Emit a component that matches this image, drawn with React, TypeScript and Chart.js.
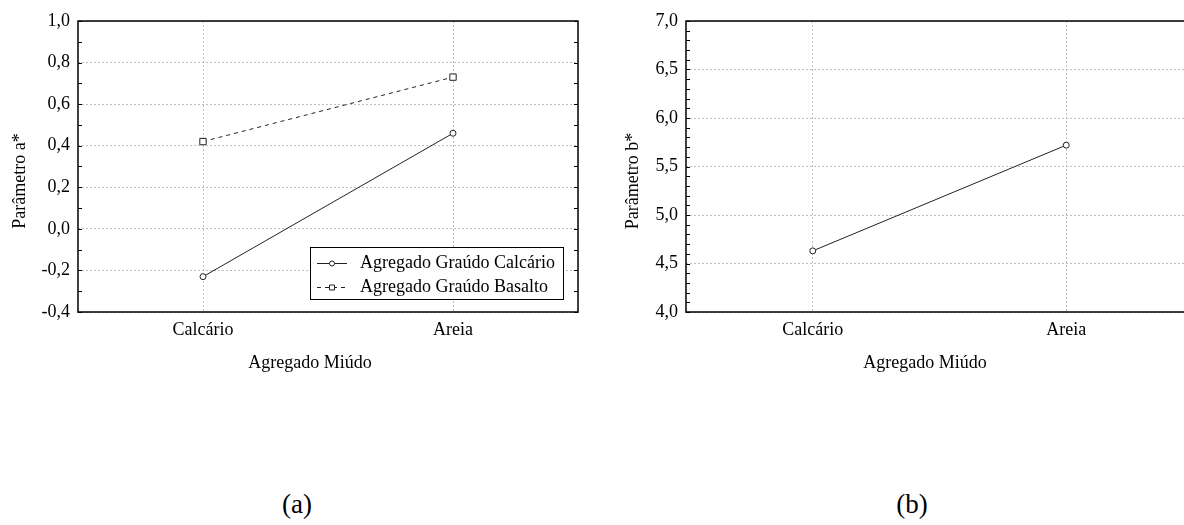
import React, { useEffect, useRef } from "react";
import { Chart, registerables } from "chart.js";

Chart.register(...registerables);

// Fine aggregate on the x axis
const categories = ["Calcário", "Areia"];
// Parameter a* for each coarse aggregate
const aCalcario = [-0.23, 0.46];
const aBasalto = [0.42, 0.73];
// Parameter b*
const bValues = [4.63, 5.72];
// Major y ticks
const aTicks = [-0.4, -0.2, 0.0, 0.2, 0.4, 0.6, 0.8, 1.0];
const bTicks = [4.0, 4.5, 5.0, 5.5, 6.0, 6.5, 7.0];
const seriesNames = ["Agregado Graúdo Calcário", "Agregado Graúdo Basalto"];
const xTitle = "Agregado Miúdo";
const yTitles = ["Parâmetro a*", "Parâmetro b*"];
const panelLabels = ["(a)", "(b)"];

const FONT = '"Liberation Serif", "Times New Roman", serif';
const GRID = "#bdbdbd";
const fmt = (v: number) => v.toFixed(1).replace(".", ",");

// Draws the plot frame, inner minor ticks, axis titles and the boxed legend
const framePlugin = {
  id: "frame",
  afterDraw(chart: any, _args: any, opts: any) {
    const { ctx, chartArea: a } = chart;
    const y = chart.scales.y;
    ctx.save();
    ctx.strokeStyle = "#000";
    ctx.lineWidth = 1;
    const n = Math.round((y.max - y.min) / opts.minorStep);
    ctx.beginPath();
    for (let i = 0; i <= n; i++) {
      const py = Math.round(y.getPixelForValue(y.min + i * opts.minorStep)) + 0.5;
      ctx.moveTo(a.left, py);
      ctx.lineTo(a.left + 4, py);
      ctx.moveTo(a.right, py);
      ctx.lineTo(a.right - 4, py);
    }
    ctx.stroke();

    ctx.lineWidth = 1.5;
    ctx.strokeRect(a.left, a.top, a.right - a.left, a.bottom - a.top);

    ctx.fillStyle = "#000";
    ctx.font = `18px ${FONT}`;
    ctx.textAlign = "center";
    ctx.textBaseline = "middle";
    ctx.fillText(opts.xTitle, chart.width / 2, opts.xTitleY);
    ctx.save();
    ctx.translate(opts.yTitleX, opts.yTitleY);
    ctx.rotate(-Math.PI / 2);
    ctx.fillText(opts.yTitle, 0, 0);
    ctx.restore();

    if (opts.legend) {
      const ds = chart.data.datasets;
      ctx.font = `18px ${FONT}`;
      const textW = Math.max(...ds.map((d: any) => ctx.measureText(d.label).width));
      const boxW = Math.round(50 + textW + 8);
      const boxH = 52;
      const bx = Math.round(a.right - 15 - boxW);
      const by = Math.round(a.bottom - 13 - boxH);
      ctx.fillStyle = "#fff";
      ctx.fillRect(bx, by, boxW, boxH);
      ctx.strokeStyle = "#000";
      ctx.lineWidth = 1;
      ctx.strokeRect(bx + 0.5, by + 0.5, boxW, boxH);
      ds.forEach((d: any, i: number) => {
        const ry = by + 16.5 + i * 24;
        ctx.strokeStyle = "#222";
        ctx.lineWidth = 1;
        ctx.setLineDash(d.borderDash || []);
        ctx.beginPath();
        ctx.moveTo(bx + 7, ry);
        ctx.lineTo(bx + 37, ry);
        ctx.stroke();
        ctx.setLineDash([]);
        ctx.fillStyle = "#fff";
        ctx.beginPath();
        if (d.pointStyle === "rect") {
          ctx.rect(bx + 19.5, ry - 2.5, 5, 5);
        } else {
          ctx.arc(bx + 22, ry, 2.5, 0, Math.PI * 2);
        }
        ctx.fill();
        ctx.stroke();
        ctx.fillStyle = "#000";
        ctx.textAlign = "left";
        ctx.fillText(d.label, bx + 50, ry);
      });
    }
    ctx.restore();
  },
};

function makeConfig(o: {
  datasets: any[];
  ticks: number[];
  yTitle: string;
  axisWidth: number;
  minorStep: number;
  yTitleX: number;
  legend: boolean;
}): any {
  return {
    type: "line",
    data: { labels: categories, datasets: o.datasets },
    plugins: [framePlugin],
    options: {
      animation: false,
      responsive: false,
      events: [],
      layout: { padding: { top: 21, right: 42, left: 0, bottom: 0 } },
      scales: {
        x: {
          type: "category",
          offset: true,
          afterFit: (s: any) => {
            s.height = 68;
          },
          ticks: { font: { family: FONT, size: 18 }, color: "#000", padding: 7 },
          grid: { offset: false, color: GRID, lineWidth: 1, drawTicks: false },
          border: { display: false, dash: [2, 2] },
        },
        y: {
          type: "linear",
          min: o.ticks[0],
          max: o.ticks[o.ticks.length - 1],
          afterBuildTicks: (s: any) => {
            s.ticks = o.ticks.map((v) => ({ value: v }));
          },
          afterFit: (s: any) => {
            s.width = o.axisWidth;
          },
          ticks: {
            font: { family: FONT, size: 18 },
            color: "#000",
            padding: 8,
            callback: (v: any) => fmt(Number(v)),
          },
          grid: { color: GRID, lineWidth: 1, drawTicks: false },
          border: { display: false, dash: [2, 2] },
        },
      },
      plugins: {
        legend: { display: false },
        tooltip: { enabled: false },
        frame: {
          minorStep: 0.1,
          xTitle,
          xTitleY: 363,
          yTitle: o.yTitle,
          yTitleX: o.yTitleX,
          yTitleY: 181,
          legend: o.legend,
        },
      },
    },
  };
}

const lineStyle = {
  borderColor: "#222",
  borderWidth: 1,
  pointBackgroundColor: "#fff",
  pointBorderColor: "#222",
  pointBorderWidth: 1,
  fill: false,
  tension: 0,
};

function Panel({ left, build }: { left: number; build: () => any }) {
  const ref = useRef<HTMLCanvasElement>(null);
  useEffect(() => {
    const chart = new Chart(ref.current as HTMLCanvasElement, build());
    return () => chart.destroy();
  }, []);
  return (
    <canvas
      ref={ref}
      width={620}
      height={380}
      style={{ position: "absolute", left, top: 0, width: 620, height: 380 }}
    />
  );
}

export default function App() {
  const buildA = () =>
    makeConfig({
      datasets: [
        { ...lineStyle, label: seriesNames[0], data: aCalcario, pointStyle: "circle", pointRadius: 3 },
        {
          ...lineStyle,
          label: seriesNames[1],
          data: aBasalto,
          pointStyle: "rect",
          pointRadius: 4.5,
          borderDash: [4, 4],
        },
      ],
      ticks: aTicks,
      yTitle: yTitles[0],
      axisWidth: 78,
      minorStep: 0.1,
      yTitleX: 20,
      legend: true,
    });
  const buildB = () =>
    makeConfig({
      datasets: [{ ...lineStyle, label: yTitles[1], data: bValues, pointStyle: "circle", pointRadius: 3 }],
      ticks: bTicks,
      yTitle: yTitles[1],
      axisWidth: 71,
      minorStep: 0.1,
      yTitleX: 18,
      legend: false,
    });
  const labelStyle = (cx: number): React.CSSProperties => ({
    position: "absolute",
    left: cx - 50,
    width: 100,
    top: 488,
    lineHeight: "32px",
    textAlign: "center",
    fontFamily: FONT,
    fontSize: 27,
    color: "#000",
  });
  return (
    <div
      style={{
        position: "fixed",
        left: 0,
        top: 0,
        width: 1184,
        height: 525,
        overflow: "hidden",
        background: "#fff",
      }}
    >
      <Panel left={0} build={buildA} />
      <Panel left={615} build={buildB} />
      <div style={labelStyle(297)}>{panelLabels[0]}</div>
      <div style={labelStyle(912)}>{panelLabels[1]}</div>
    </div>
  );
}
